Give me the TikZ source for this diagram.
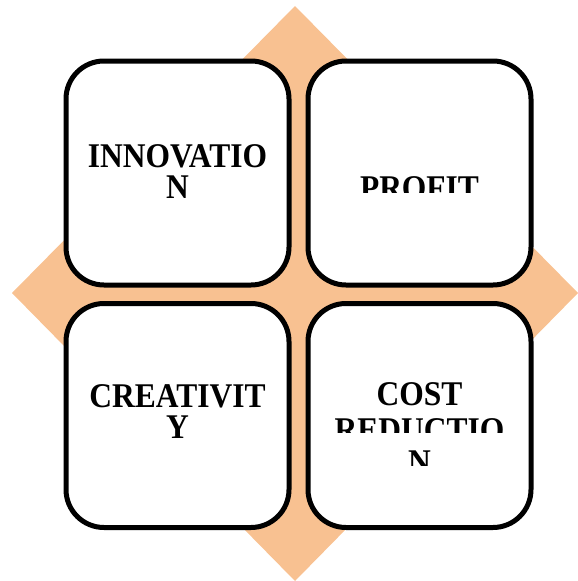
\documentclass[tikz,border=0pt]{standalone}
\usepackage{fontspec}
\setmainfont{Liberation Serif}
\definecolor{peach}{RGB}{248,193,145}
\begin{document}
\begin{tikzpicture}[x=1pt,y=-1pt,
  card/.style={draw=black, line width=5pt, rounded corners=38pt, fill=white,
    minimum width=223pt, minimum height=224pt, inner sep=0pt},
  word/.style={font=\bfseries\fontsize{31.5}{32}\selectfont, inner sep=0pt, anchor=base}]
\useasboundingbox (0,0) rectangle (578,581);
\fill[peach] (295,6) -- (578,293) -- (295,581) -- (12,293) -- cycle;
\node[card] (tl) at (177.5,173) {};
\node[card] (tr) at (419.5,173) {};
\node[card] (bl) at (177.5,415.5) {};
\node[card] (br) at (419.5,415.5) {};
% texts
\node[word] (innovA) at (177.5,167) {\scalebox{1}[1.1]{INNOVATIO}};
\node[word] (innovB) at (177.5,198) {\scalebox{1}[1.1]{N}};
\node[word] (creaA) at (177.5,407) {\scalebox{1}[1.1]{CREATIVIT}};
\node[word] (creaB) at (177.5,438) {\scalebox{1}[1.1]{Y}};
\begin{scope}
  \clip (310,100) rectangle (530,192);
  \node[word] (profit) at (419.5,199) {\scalebox{1}[1.1]{PROFIT}};
\end{scope}
\begin{scope}
  \clip (310,320) rectangle (530,432) (310,447) rectangle (530,465);
  \node[word] (costA) at (419.5,405) {\scalebox{1}[1.1]{COST}};
  \node[word] (costB) at (419.5,441) {\scalebox{1}[1.1]{REDUCTIO}};
  \node[word] (costC) at (419.5,473) {\scalebox{1}[1.1]{N}};
\end{scope}
\end{tikzpicture}
\end{document}
